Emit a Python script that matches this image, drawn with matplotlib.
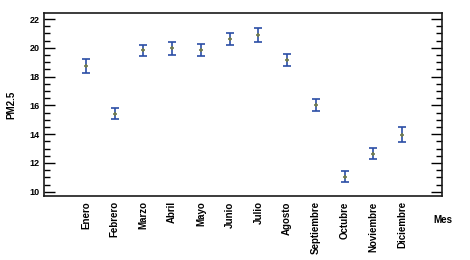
import numpy as np
import matplotlib
matplotlib.use("Agg")
import matplotlib.pyplot as plt
from matplotlib.ticker import MultipleLocator

meses = ['Enero', 'Febrero', 'Marzo', 'Abril', 'Mayo', 'Junio', 'Julio',
         'Agosto', 'Septiembre', 'Octubre', 'Noviembre', 'Diciembre']
pm25 = [18.73, 15.43, 19.83, 19.97, 19.82, 20.59, 20.88, 19.13, 16.01, 11.03, 12.63, 13.97]
err = [0.51, 0.40, 0.38, 0.44, 0.41, 0.41, 0.48, 0.42, 0.42, 0.38, 0.38, 0.54]

plt.rcParams['font.family'] = ['Liberation Sans', 'DejaVu Sans']
plt.rcParams['font.weight'] = 'bold'

fig = plt.figure(figsize=(4.7, 2.6), dpi=100)
ax = fig.add_axes([0.0936, 0.247, 0.8468, 0.702])

x = np.arange(1, len(meses) + 1)
ax.errorbar(x, pm25, yerr=err, fmt='none', ecolor='#2b4ea6', elinewidth=1.2,
            capsize=3.2, capthick=1.2)
ax.plot(x, pm25, '+', color='#6f7a52', markersize=3.5, markeredgewidth=1.2)

ax.set_xlim(-0.46, 13.39)
ax.set_ylim(9.72, 22.4)
ax.set_xticks(x)
ax.set_xticklabels(meses, rotation=90, fontsize=7, fontweight='bold')
ax.tick_params(axis='x', length=0, pad=4)
ax.yaxis.set_major_locator(MultipleLocator(2))
ax.yaxis.set_minor_locator(MultipleLocator(0.5))
ax.tick_params(axis='y', which='major', direction='in', length=8, width=1,
               right=True, labelsize=6.5, pad=3)
ax.tick_params(axis='y', which='minor', direction='in', length=4, width=1, right=True)
for lab in ax.get_yticklabels():
    lab.set_fontweight('bold')
for s in ax.spines.values():
    s.set_linewidth(1.2)
    s.set_color('#1a1a1a')

fig.text(0.025, 0.597, 'PM2.5', rotation=90, ha='center', va='center',
         fontsize=7, fontweight='bold')
fig.text(0.943, 0.154, 'Mes', ha='center', va='center', fontsize=7, fontweight='bold')

fig.savefig('out.png', dpi=100)
